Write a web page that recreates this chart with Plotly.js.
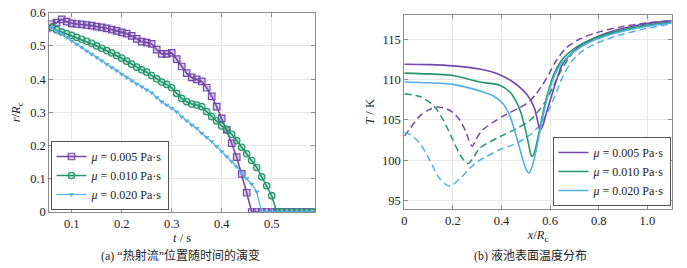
<!DOCTYPE html>
<html>
<head>
<meta charset="utf-8">
<script src="https://cdn.plot.ly/plotly-3.0.1.min.js"></script>
<style>html,body{margin:0;padding:0;background:#fff;}#chart{width:687px;height:268px;}</style>
</head>
<body>
<div id="chart"></div>
<script>
// ---------- (a) hot-jet position vs time ----------
var tSec = [0.05,0.06,0.07,0.08,0.09,0.10,0.11,0.12,0.13,0.14,0.15,0.16,0.17,0.18,0.19,0.20,0.21,0.22,0.23,0.24,0.25,0.26,0.27,0.28,0.29,0.30,0.31,0.32,0.33,0.34,0.35,0.36,0.37,0.38,0.39,0.40,0.41,0.42,0.43,0.44,0.45,0.46,0.47,0.48,0.49,0.50,0.51,0.52,0.53,0.54,0.55,0.56,0.57,0.58];
var rMu005 = [0.553,0.566,0.570,0.580,0.573,0.568,0.566,0.565,0.563,0.561,0.558,0.556,0.553,0.549,0.545,0.541,0.537,0.530,0.521,0.513,0.510,0.506,0.489,0.476,0.476,0.479,0.460,0.438,0.418,0.405,0.399,0.393,0.374,0.348,0.317,0.282,0.247,0.207,0.165,0.115,0.058,0,0,0,0,0,0,0,0,0,0,0,0,0];
var rMu010 = [0.553,0.556,0.548,0.542,0.537,0.532,0.526,0.520,0.514,0.508,0.500,0.493,0.486,0.479,0.471,0.463,0.454,0.445,0.436,0.428,0.421,0.411,0.401,0.391,0.384,0.374,0.357,0.342,0.332,0.325,0.322,0.317,0.302,0.287,0.274,0.259,0.249,0.234,0.215,0.195,0.175,0.155,0.134,0.106,0.079,0.049,0,0,0,0,0,0,0,0];
var rMu020 = [0.553,0.556,0.545,0.535,0.525,0.515,0.505,0.495,0.485,0.475,0.465,0.455,0.445,0.435,0.425,0.415,0.405,0.395,0.385,0.377,0.368,0.359,0.345,0.332,0.322,0.312,0.302,0.287,0.275,0.262,0.252,0.237,0.225,0.212,0.197,0.182,0.167,0.152,0.137,0.116,0.101,0.084,0.061,0,0,0,0,0,0,0,0,0,0,0];

// ---------- (b) pool surface temperature ----------
// solid curves
var xS005 = [0,0.1,0.2,0.31,0.392,0.447,0.488,0.515,0.536,0.549,0.559,0.570,0.583,0.604,0.63,0.651,0.69,0.74,0.8,0.88,0.97,1.1];
var TS005 = [111.9,111.85,111.7,111.3,110.6,109.7,108.7,107.7,106.4,104.8,103.7,104.3,105.7,107.8,110.3,111.9,113.3,114.5,115.4,116.2,116.8,117.3];
var xS010 = [0,0.1,0.2,0.31,0.392,0.433,0.46,0.481,0.499,0.512,0.522,0.528,0.539,0.553,0.570,0.59,0.617,0.645,0.68,0.73,0.8,0.88,0.97,1.1];
var TS010 = [110.8,110.7,110.5,109.7,109.3,108.5,107.3,105.8,103.7,101.9,100.6,100.5,101.4,103.3,105.8,108.3,110.8,112.3,113.4,114.4,115.3,116.0,116.6,117.1];
var xS020 = [0,0.1,0.2,0.31,0.365,0.406,0.433,0.454,0.471,0.488,0.502,0.512,0.526,0.539,0.556,0.576,0.597,0.624,0.655,0.7,0.76,0.84,0.93,1.02,1.1];
var TS020 = [109.7,109.6,109.4,108.6,108.0,107.0,105.6,103.7,101.9,100.0,98.8,98.4,99.2,100.8,103.3,106.2,108.7,110.9,112.3,113.5,114.6,115.5,116.2,116.7,117.0];
// dashed curves
var xD005 = [0,0.023,0.064,0.105,0.14,0.187,0.228,0.255,0.27,0.28,0.295,0.32,0.365,0.42,0.474,0.515,0.542,0.57,0.597,0.624,0.665,0.72,0.79,0.884,0.993,1.1];
var TD005 = [103.0,103.9,105.5,106.3,106.6,106.2,105.0,103.4,102.1,101.75,102.6,103.7,104.7,105.7,106.5,107.3,108.2,109.4,110.8,112.3,113.9,115.0,115.8,116.5,117.0,117.3];
var xD010 = [0,0.064,0.119,0.16,0.2,0.235,0.262,0.29,0.31,0.392,0.46,0.515,0.549,0.583,0.61,0.645,0.68,0.72,0.8,0.884,0.993,1.1];
var TD010 = [108.2,107.9,106.8,105.0,102.5,100.4,99.6,100.6,101.5,102.9,103.9,104.9,106.0,107.4,109.0,111.1,112.8,114.2,115.2,116.0,116.7,117.1];
var xD020 = [0,0.023,0.064,0.105,0.146,0.187,0.228,0.276,0.31,0.392,0.46,0.515,0.556,0.59,0.617,0.651,0.69,0.74,0.8,0.884,0.993,1.1];
var TD020 = [103.4,103.2,102.1,100.0,97.7,96.8,97.7,99.2,100.0,101.3,102.1,103.1,104.3,106.0,107.8,110.3,112.3,113.7,114.6,115.5,116.3,116.9];

var seriesNames = ['<i>μ</i> = 0.005 Pa·s','<i>μ</i> = 0.010 Pa·s','<i>μ</i> = 0.020 Pa·s'];
var leftXTicks = [0.1,0.2,0.3,0.4,0.5];
var leftXTickText = ['0.1','0.2','0.3','0.4','0.5'];
var leftYTicks = [0,0.1,0.2,0.3,0.4,0.5,0.6];
var leftYTickText = ['0','0.1','0.2','0.3','0.4','0.5','0.6'];
var rightXTicks = [0,0.2,0.4,0.6,0.8,1.0];
var rightXTickText = ['0','0.2','0.4','0.6','0.8','1.0'];
var rightYTicks = [95,100,105,110,115];
var rightYTickText = ['95','100','105','110','115'];
var captionA = '(a) “热射流”位置随时间的演变';
var captionB = '(b) 液池表面温度分布';

var C1 = '#7447aa', C2 = '#24966b', C3 = '#52b0e6';
var FF = 'Times New Roman, Liberation Serif, DejaVu Serif, serif';
var FFCJK = 'Times New Roman, Liberation Serif, Noto Sans CJK SC, serif';
var TXT = '#222';

var traces = [
  {x:tSec, y:rMu005, name:seriesNames[0], mode:'lines+markers', xaxis:'x', yaxis:'y', legend:'legend',
   line:{color:C1,width:1.6}, marker:{symbol:'square',size:6.5,color:'rgba(116,71,170,0.25)',line:{color:C1,width:1.2}}},
  {x:tSec, y:rMu010, name:seriesNames[1], mode:'lines+markers', xaxis:'x', yaxis:'y', legend:'legend',
   line:{color:C2,width:1.6}, marker:{symbol:'circle',size:6.5,color:'rgba(36,150,107,0.25)',line:{color:C2,width:1.2}}},
  {x:tSec, y:rMu020, name:seriesNames[2], mode:'lines+markers', xaxis:'x', yaxis:'y', legend:'legend',
   line:{color:C3,width:1.2}, marker:{symbol:'triangle-down',size:5,color:C3,line:{width:0}}},

  {x:xD005, y:TD005, name:seriesNames[0], mode:'lines', xaxis:'x2', yaxis:'y2', showlegend:false,
   line:{color:C1,width:1.5,dash:'7px,4px',shape:'spline',smoothing:0.8}},
  {x:xD010, y:TD010, name:seriesNames[1], mode:'lines', xaxis:'x2', yaxis:'y2', showlegend:false,
   line:{color:C2,width:1.5,dash:'7px,4px',shape:'spline',smoothing:0.8}},
  {x:xD020, y:TD020, name:seriesNames[2], mode:'lines', xaxis:'x2', yaxis:'y2', showlegend:false,
   line:{color:C3,width:1.5,dash:'7px,4px',shape:'spline',smoothing:0.8}},
  {x:xS005, y:TS005, name:seriesNames[0], mode:'lines', xaxis:'x2', yaxis:'y2', legend:'legend2',
   line:{color:C1,width:1.6,shape:'spline',smoothing:0.8}},
  {x:xS010, y:TS010, name:seriesNames[1], mode:'lines', xaxis:'x2', yaxis:'y2', legend:'legend2',
   line:{color:C2,width:1.6,shape:'spline',smoothing:0.8}},
  {x:xS020, y:TS020, name:seriesNames[2], mode:'lines', xaxis:'x2', yaxis:'y2', legend:'legend2',
   line:{color:C3,width:1.6,shape:'spline',smoothing:0.8}}
];

var axCommon = {
  showline:true, linecolor:'#8c8c8c', linewidth:1, mirror:'ticks',
  showgrid:true, gridcolor:'#e6e6e6', gridwidth:1,
  ticks:'inside', ticklen:4, tickcolor:'#8c8c8c', zeroline:false,
  tickfont:{family:FF,size:12.5,color:TXT}, automargin:false
};
function ax(extra){ var o = {}; for (var k in axCommon) o[k]=axCommon[k]; for (var k2 in extra) o[k2]=extra[k2]; return o; }

var layout = {
  width:687, height:268,
  margin:{l:0,r:0,t:0,b:0},
  paper_bgcolor:'#fff', plot_bgcolor:'#fff',
  font:{family:FF,size:12,color:TXT},
  xaxis: ax({domain:[49.3/687,315/687], anchor:'y', range:[0.0552,0.5866],
    tickmode:'array', tickvals:leftXTicks, ticktext:leftXTickText,
    title:{text:'<i>t</i> / s', font:{family:FF,size:12.5,color:TXT}, standoff:3}}),
  yaxis: ax({domain:[1-212/268,1-12.7/268], anchor:'x', range:[0,0.6],
    tickmode:'array', tickvals:leftYTicks, ticktext:leftYTickText,
    title:{text:'<i>r</i>/<i>R</i><sub>c</sub>', font:{family:FF,size:12.5,color:TXT}, standoff:6}}),
  xaxis2: ax({domain:[404.3/687,671.7/687], anchor:'y2', range:[0,1.1],
    tickmode:'array', tickvals:rightXTicks, ticktext:rightXTickText,
    title:{text:'<i>x</i>/<i>R</i><sub>c</sub>', font:{family:FF,size:12.5,color:TXT}, standoff:3}}),
  yaxis2: ax({domain:[1-208.7/268,1-15/268], anchor:'x2', range:[94,118],
    tickmode:'array', tickvals:rightYTicks, ticktext:rightYTickText,
    title:{text:'<i>T</i> / K', font:{family:FF,size:12.5,color:TXT}, standoff:4}}),
  legend:{x:50.5/687, y:1-210/268, xanchor:'left', yanchor:'bottom', bgcolor:'#fff',
    bordercolor:'#555', borderwidth:1, font:{family:FF,size:12,color:TXT},
    tracegroupgap:0, itemwidth:30},
  legend2:{x:552.5/687, y:1-206/268, xanchor:'left', yanchor:'bottom', bgcolor:'#fff',
    bordercolor:'#555', borderwidth:1, font:{family:FF,size:12,color:TXT},
    tracegroupgap:0, itemwidth:30},
  showlegend:true,
  annotations:[
    {text:captionA, xref:'paper', yref:'paper', x:180.5/687, y:1-255/268, xanchor:'center', yanchor:'middle',
     showarrow:false, font:{family:FFCJK,size:12,color:TXT}},
    {text:captionB, xref:'paper', yref:'paper', x:530.5/687, y:1-255/268, xanchor:'center', yanchor:'middle',
     showarrow:false, font:{family:FFCJK,size:12,color:TXT}}
  ]
};

Plotly.newPlot('chart', traces, layout, {displayModeBar:false, staticPlot:true});
</script>
</body>
</html>
